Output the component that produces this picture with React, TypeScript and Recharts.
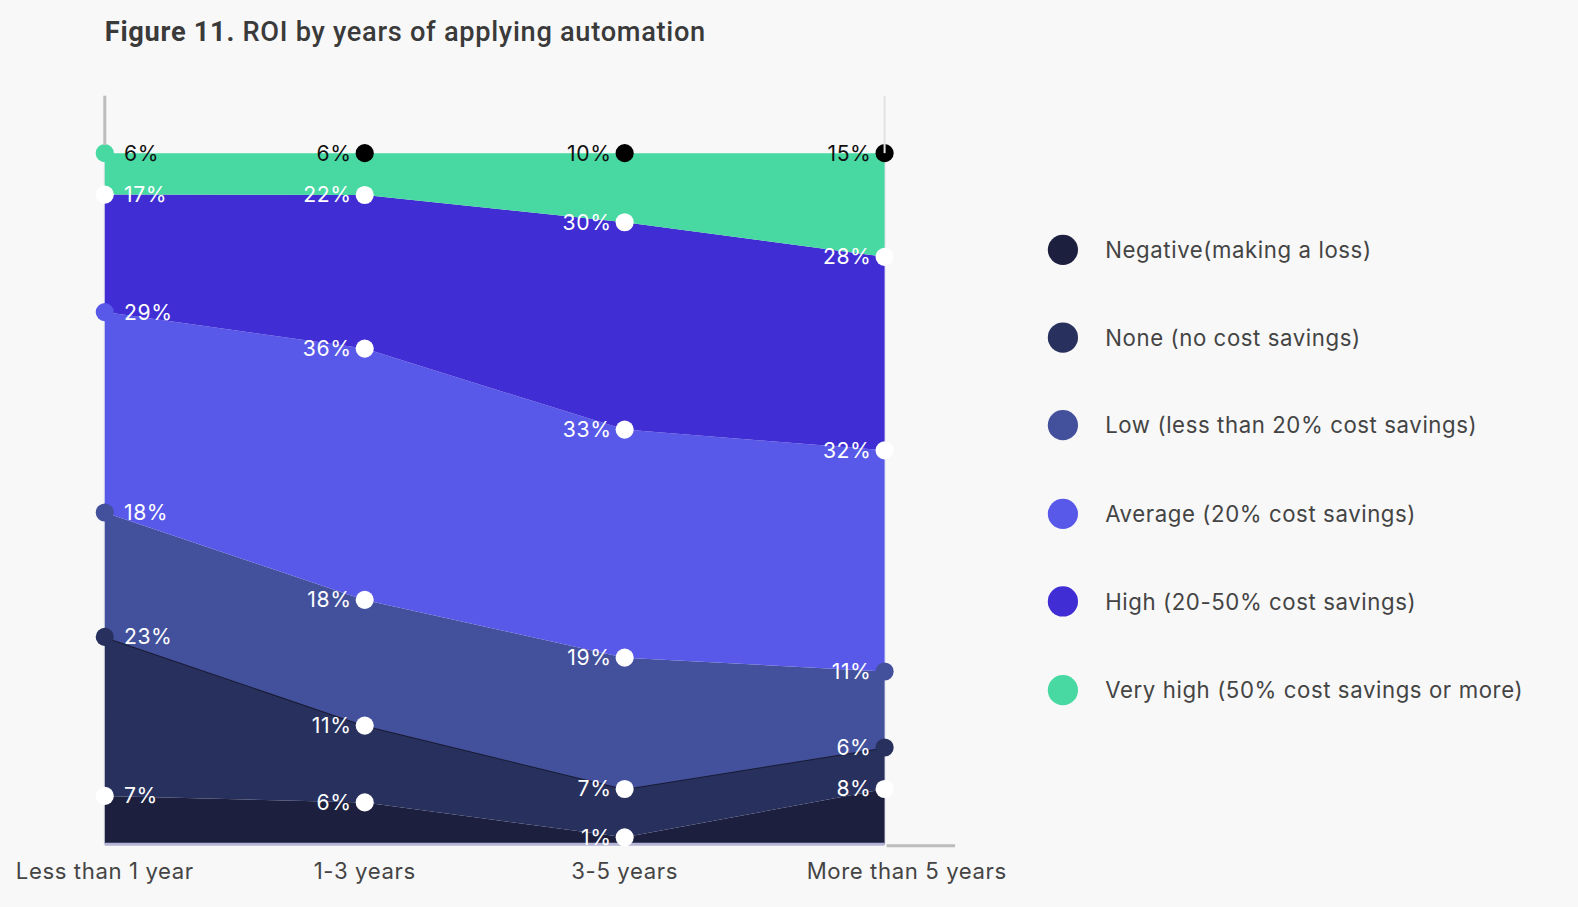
import { AreaChart, Area, XAxis, YAxis, CartesianGrid } from 'recharts';

const categories = ['Less than 1 year', '1-3 years', '3-5 years', 'More than 5 years'];
const negative = [7, 6, 1, 8];
const noSavings = [23, 11, 7, 6];
const low = [18, 18, 19, 11];
const average = [29, 36, 33, 32];
const high = [17, 22, 30, 28];
const veryHigh = [6, 6, 10, 15];

const data = categories.map((name, i) => ({
  name,
  negative: negative[i],
  none: noSavings[i],
  low: low[i],
  average: average[i],
  high: high[i],
  veryHigh: veryHigh[i],
}));

// bottom to top
const series = [
  { key: 'negative', label: 'Negative(making a loss)', fill: '#1c1f3d', dots: ['#fff', '#fff', '#fff', '#fff'], text: '#fff' },
  { key: 'none', label: 'None (no cost savings)', fill: '#28305e', dots: ['#28305e', '#fff', '#fff', '#28305e'], text: '#fff' },
  { key: 'low', label: 'Low (less than 20% cost savings)', fill: '#43519c', dots: ['#43519c', '#fff', '#fff', '#43519c'], text: '#fff' },
  { key: 'average', label: 'Average (20% cost savings)', fill: '#5859e9', dots: ['#5859e9', '#fff', '#fff', '#fff'], text: '#fff' },
  { key: 'high', label: 'High (20-50% cost savings)', fill: '#402dd4', dots: ['#fff', '#fff', '#fff', '#fff'], text: '#fff' },
  { key: 'veryHigh', label: 'Very high (50% cost savings or more)', fill: '#47d9a1', dots: ['#47d9a1', '#000', '#000', '#000'], text: '#111' },
];

const font = 'Inter, "Noto Sans", sans-serif';

const makeDot = (s: any) => (props: any) => {
  const { cx, cy, index, payload } = props;
  if (cx == null || cy == null) return <g key={`${s.key}-${index}`} />;
  const first = index === 0;
  return (
    <g key={`${s.key}-${index}`}>
      <circle cx={cx} cy={cy} r={9} fill={s.dots[index]} />
      <text
        x={first ? cx + 19 : cx - 13}
        y={cy}
        dy="0.35em"
        textAnchor={first ? 'start' : 'end'}
        fontSize={21}
        letterSpacing={0.6}
        fontFamily={font}
        fill={s.text}
      >
        {payload[s.key]}%
      </text>
    </g>
  );
};

const Tick = (props: any) => {
  const { x, y, payload, index } = props;
  return (
    <text
      x={x + (index === 3 ? 22 : 0)}
      y={y + 26}
      textAnchor="middle"
      fontSize={22}
      letterSpacing={0.6}
      fontFamily={font}
      fill="#444"
    >
      {payload.value}
    </text>
  );
};

const App = () => {
  return (
    <div style={{ position: 'fixed', left: 0, top: 0, width: '100vw', height: '100vh', overflow: 'hidden', background: '#f8f8f8' }}>
      <div style={{ position: 'absolute', left: 0, top: 0, width: 1578, height: 907, transform: 'scale(1.0075)', transformOrigin: '0 0' }}>
        <div
          style={{
            position: 'absolute',
            left: 104,
            top: 16,
            fontFamily: 'Roboto, sans-serif',
            fontSize: 27,
            fontWeight: 500,
            color: '#3a3a3a',
            letterSpacing: 0.7,
            whiteSpace: 'nowrap',
          }}
        >
          <span style={{ fontWeight: 700 }}>Figure 11.</span> ROI by years of applying automation
        </div>
        <div style={{ position: 'absolute', left: 0, top: 0 }}>
          <AreaChart
            width={1578}
            height={907}
            data={data}
            stackOffset="expand"
            margin={{ top: 152, left: 104, right: 700, bottom: 29 }}
          >
            <XAxis
              dataKey="name"
              scale="point"
              height={40}
              tickLine={false}
              axisLine={{ stroke: '#b4b5d6', strokeWidth: 3 }}
              tick={<Tick />}
              interval={0}
            />
            <YAxis width={0} tick={false} tickLine={false} axisLine={{ stroke: '#bdbdbd', strokeWidth: 3 }} />
            {series.map((s) => (
              <Area
                key={s.key}
                type="linear"
                dataKey={s.key}
                stackId="a"
                fill={s.fill}
                fillOpacity={1}
                stroke={s.key === 'none' ? '#191b33' : 'none'}
                strokeWidth={2}
                dot={false}
                activeDot={false}
                isAnimationActive={false}
              />
            ))}
            <CartesianGrid vertical={false} horizontalPoints={[190, 449, 709]} stroke="rgba(0,0,0,0.08)" strokeWidth={2} />
            <CartesianGrid horizontal={false} stroke="rgba(190,190,215,0.35)" strokeWidth={2} />
            {series.map((s) => (
              <Area
                key={`lbl-${s.key}`}
                type="linear"
                dataKey={s.key}
                stackId="b"
                fill="none"
                stroke="none"
                legendType="none"
                dot={makeDot(s)}
                activeDot={false}
                isAnimationActive={false}
              />
            ))}
          </AreaChart>
        </div>
        {/* axis extensions outside the plot box */}
        <svg width={1578} height={907} style={{ position: 'absolute', left: 0, top: 0, pointerEvents: 'none' }}>
          <line x1={104} x2={104} y1={95} y2={144} stroke="#bdbdbd" strokeWidth={3} />
          <line x1={878} x2={878} y1={95} y2={152} stroke="#e3e3e3" strokeWidth={2} />
          <line x1={880} x2={948} y1={839.5} y2={839.5} stroke="#bdbdbd" strokeWidth={3} />
        </svg>
        <div style={{ position: 'absolute', left: 1040, top: 204, fontFamily: font }}>
          {series.map((s) => (
            <div key={s.key} style={{ display: 'flex', alignItems: 'center', height: 87.4 }}>
              <span style={{ width: 30, height: 30, borderRadius: 15, background: s.fill, display: 'inline-block' }} />
              <span style={{ marginLeft: 27, fontSize: 22, letterSpacing: 0.6, color: '#444' }}>{s.label}</span>
            </div>
          ))}
        </div>
      </div>
    </div>
  );
};

export default App;
